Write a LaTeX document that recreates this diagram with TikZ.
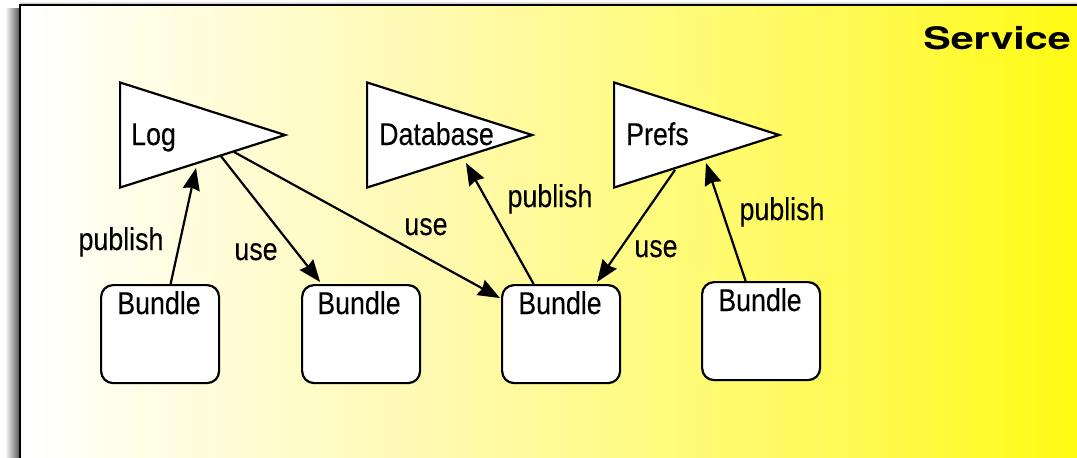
\documentclass[tikz,border=0pt]{standalone}
\usepackage{fontspec}
\setmainfont{Liberation Sans}[FakeStretch=0.85,FakeBold=0.15]
\newfontfamily\svcfont{TeX Gyre Heros}[FakeStretch=1.33,BoldFont={* Bold}]
\usetikzlibrary{arrows.meta,shapes.geometric,calc}
\pgfdeclarehorizontalshading{panelfill}{100bp}{
  rgb(0bp)=(1,1,1); rgb(25bp)=(1,1,1); rgb(27.3bp)=(1,1,.96); rgb(33.7bp)=(1,.99,.85);
  rgb(43.3bp)=(1,.98,.69); rgb(53bp)=(1,.985,.5); rgb(62.6bp)=(1,.98,.31);
  rgb(72.2bp)=(1,.98,.06); rgb(75bp)=(1,.975,0); rgb(100bp)=(1,.975,0)}
\tikzset{
  svc/.style={isosceles triangle,isosceles triangle stretches,shape border rotate=0,draw=black,fill=white,line width=2.2pt,inner sep=0pt,minimum width=105pt,minimum height=165pt,anchor=apex,miter limit=10},
  bund/.style={draw=black,fill=white,line width=2.2pt,rounded corners=12pt,minimum width=118pt,minimum height=98pt,inner sep=0pt,anchor=north west},
  txt/.style={font=\fontsize{31.5}{31.5}\selectfont,inner sep=0pt,text=black},
  conn/.style={line width=2.2pt,-{Stealth[length=22pt,width=17pt,inset=2pt]}}
}
\begin{document}
\begin{tikzpicture}[x=1pt,y=-1pt]
\useasboundingbox (0,0) rectangle (1077,458);
% drop shadow
\shade[left color=white,right color=black!68] (5,8) rectangle (20,458);
\shade[bottom color=black!35,top color=white] (20,1) rectangle (1077,5);
% panel
\shade[shading=panelfill] (20,5) rectangle (1150,470);
\draw[line width=2.4pt] (1150,5) -- (20,5) -- (20,470);
\node[font=\svcfont\bfseries\fontsize{31}{31}\selectfont,anchor=east,inner sep=0pt] (svc) at (1071,38) {Service};
% triangles
\node[svc] (log) at (288,135) {};
\node[svc] (db) at (535,135) {};
\node[svc] (prefs) at (782,135) {};
\node[txt,anchor=base west] (logt) at (131,145) {Log};
\node[txt,anchor=base west] (dbt) at (379,145) {Database};
\node[txt,anchor=base west] (prefst) at (626,145) {Prefs};
% bundles
\node[bund] (b1) at (100,284) {};
\node[bund] (b2) at (301,284) {};
\node[bund] (b3) at (501,284) {};
\node[bund] (b4) at (701,281) {};
\node[txt,anchor=base] (b1t) at (159,314) {Bundle};
\node[txt,anchor=base] (b2t) at (359,314) {Bundle};
\node[txt,anchor=base] (b3t) at (560,314) {Bundle};
\node[txt,anchor=base] (b4t) at (760,311) {Bundle};
% connectors
\draw[conn] ($(b1.north)+(10.5,0)$) -- ($(log.apex)+(-92,33)$);
\draw[conn] ($(log.apex)+(-68,20)$) -- ($(b2.north)+(-41,-2)$);
\draw[conn] ($(log.apex)+(-54,17)$) -- ($(b3.west)+(-1,-36)$);
\draw[conn] ($(b3.north)+(-27.5,0)$) -- ($(db.apex)+(-69,28)$);
\draw[conn] ($(prefs.apex)+(-107,35)$) -- ($(b3.north)+(36,-2)$);
\draw[conn] ($(b4.north)+(-15.5,0)$) -- ($(prefs.apex)+(-76,28)$);
% labels
\node[txt,anchor=base] (l1) at (121,250) {publish};
\node[txt,anchor=base] (l2) at (256,260) {use};
\node[txt,anchor=base] (l3) at (426,235) {use};
\node[txt,anchor=base] (l4) at (550,207) {publish};
\node[txt,anchor=base] (l5) at (656,257) {use};
\node[txt,anchor=base] (l6) at (782,220) {publish};
\end{tikzpicture}
\end{document}
